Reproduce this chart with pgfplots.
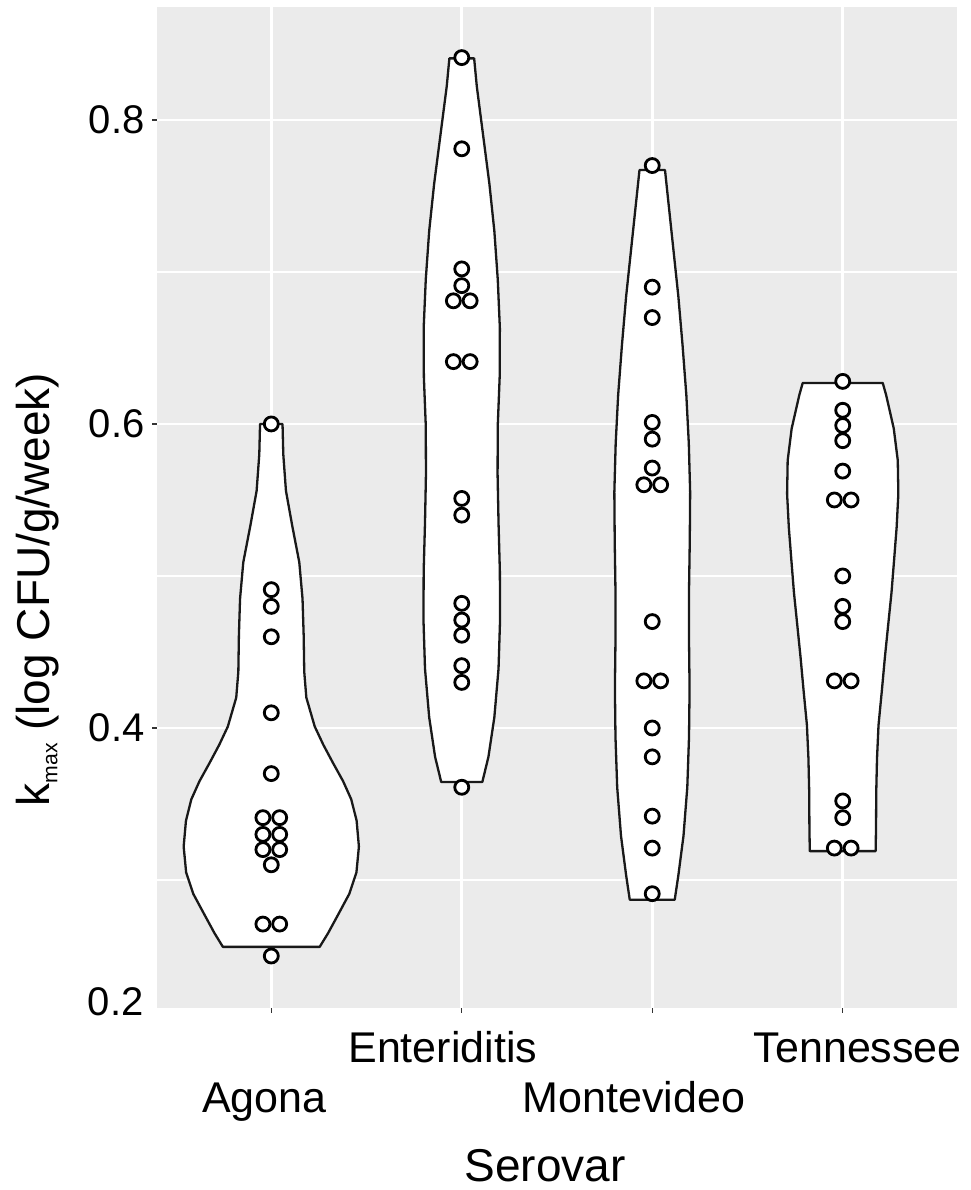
\documentclass[border=0pt]{standalone}
\usepackage{fontspec}
\setmainfont{Liberation Sans}
\usepackage{pgfplots}
\pgfplotsset{compat=1.18}

\definecolor{panelbg}{HTML}{EBEBEB}
\definecolor{tickcol}{HTML}{333333}

\begin{document}
\begin{tikzpicture}
\begin{axis}[
  scale only axis,
  width=400pt, height=500.5pt,
  xmin=0.4, xmax=4.6,
  ymin=0.2158, ymax=0.8743,
  clip=false,
  axis background/.style={fill=panelbg},
  axis line style={draw=none},
  xtick={1,2,3,4}, xticklabels={,,,},
  ytick={0.4,0.6,0.8},
  minor ytick={0.3,0.5,0.7},
  grid=both,
  major grid style={white, line width=1.4pt},
  minor grid style={white, line width=1.1pt},
  tick align=outside,
  tick pos=left,
  major tick length=2.5pt,
  minor tick length=0pt,
  every tick/.style={tickcol, line width=0.7pt},
  yticklabel style={font=\fontsize{20}{24}\selectfont, text=black, anchor=east, inner sep=0pt, xshift=-3.5pt},
  /pgf/number format/assume math mode=true,
  /pgf/number format/fixed,
  /pgf/number format/precision=1,
  /pgf/number format/fixed zerofill,
]

% violin outlines (trimmed to each group's range)
\pgfplotsset{violin/.style={draw=black!90, line width=1.15pt, fill=white, line join=round}}

\addplot[violin] coordinates {
 (1.254,0.256) (1.298,0.265) (1.350,0.277) (1.410,0.291) (1.447,0.305) (1.460,0.322)
 (1.448,0.339) (1.420,0.353) (1.377,0.365) (1.324,0.377) (1.273,0.389) (1.228,0.401)
 (1.184,0.420) (1.173,0.437) (1.170,0.461) (1.164,0.485) (1.147,0.509) (1.110,0.533)
 (1.077,0.556) (1.063,0.580) (1.059,0.600)
 (0.941,0.600) (0.937,0.580) (0.923,0.556) (0.890,0.533) (0.853,0.509) (0.836,0.485)
 (0.830,0.461) (0.827,0.437) (0.816,0.420) (0.772,0.401) (0.727,0.389) (0.676,0.377)
 (0.623,0.365) (0.580,0.353) (0.552,0.339) (0.540,0.322) (0.553,0.305) (0.590,0.291)
 (0.650,0.277) (0.702,0.265) (0.746,0.256)
} -- cycle;

\addplot[violin] coordinates {
 (2.108,0.3645) (2.140,0.381) (2.171,0.407) (2.193,0.439) (2.201,0.471) (2.200,0.503)
 (2.193,0.535) (2.188,0.567) (2.189,0.599) (2.199,0.631) (2.200,0.663) (2.189,0.695)
 (2.171,0.727) (2.145,0.758) (2.112,0.790) (2.079,0.822) (2.065,0.8405)
 (1.935,0.8405) (1.921,0.822) (1.888,0.790) (1.855,0.758) (1.829,0.727) (1.811,0.695)
 (1.800,0.663) (1.801,0.631) (1.811,0.599) (1.812,0.567) (1.807,0.535) (1.800,0.503)
 (1.799,0.471) (1.807,0.439) (1.829,0.407) (1.860,0.381) (1.892,0.3645)
} -- cycle;

\addplot[violin] coordinates {
 (3.118,0.287) (3.137,0.303) (3.164,0.329) (3.184,0.361) (3.193,0.394) (3.196,0.426)
 (3.193,0.458) (3.193,0.490) (3.197,0.523) (3.199,0.555) (3.192,0.587) (3.179,0.619)
 (3.159,0.652) (3.137,0.684) (3.110,0.716) (3.083,0.748) (3.067,0.767)
 (2.933,0.767) (2.917,0.748) (2.890,0.716) (2.863,0.684) (2.841,0.652) (2.821,0.619)
 (2.808,0.587) (2.801,0.555) (2.803,0.523) (2.807,0.490) (2.807,0.458) (2.804,0.426)
 (2.807,0.394) (2.816,0.361) (2.836,0.329) (2.863,0.303) (2.882,0.287)
} -- cycle;

\addplot[violin] coordinates {
 (4.173,0.319) (4.175,0.337) (4.176,0.358) (4.180,0.380) (4.188,0.402) (4.205,0.424)
 (4.221,0.446) (4.238,0.467) (4.256,0.489) (4.270,0.511) (4.283,0.532) (4.292,0.554)
 (4.289,0.576) (4.268,0.597) (4.228,0.619) (4.210,0.627)
 (3.790,0.627) (3.772,0.619) (3.732,0.597) (3.711,0.576) (3.708,0.554) (3.717,0.532)
 (3.730,0.511) (3.744,0.489) (3.762,0.467) (3.779,0.446) (3.795,0.424) (3.812,0.402)
 (3.820,0.380) (3.824,0.358) (3.825,0.337) (3.827,0.319)
} -- cycle;

% dot plot, equal-value bins stacked side by side
\pgfplotsset{dots/.style={only marks, mark=*, mark size=3.5pt,
  mark options={draw=black, fill=white, line width=1.4pt}}}

\addplot[dots] coordinates {
 (1,0.600) (1,0.491) (1,0.480) (1,0.460) (1,0.410) (1,0.370)
 (0.956,0.341) (1.044,0.341) (0.956,0.330) (1.044,0.330) (0.956,0.320) (1.044,0.320)
 (1,0.310) (0.956,0.271) (1.044,0.271) (1,0.250)
};
\addplot[dots] coordinates {
 (2,0.841) (2,0.781) (2,0.702) (2,0.691) (1.956,0.681) (2.044,0.681)
 (1.956,0.641) (2.044,0.641) (2,0.551) (2,0.540) (2,0.482) (2,0.471)
 (2,0.461) (2,0.441) (2,0.430) (2,0.361)
};
\addplot[dots] coordinates {
 (3,0.770) (3,0.690) (3,0.670) (3,0.601) (3,0.590) (3,0.571)
 (2.956,0.560) (3.044,0.560) (3,0.470) (2.956,0.431) (3.044,0.431) (3,0.400)
 (3,0.381) (3,0.342) (3,0.321) (3,0.291)
};
\addplot[dots] coordinates {
 (4,0.628) (4,0.609) (4,0.599) (4,0.589) (4,0.569) (3.956,0.550) (4.044,0.550)
 (4,0.500) (4,0.480) (4,0.470) (3.956,0.431) (4.044,0.431) (4,0.352) (4,0.341)
 (3.956,0.321) (4.044,0.321)
};

% staggered category labels
\node[anchor=base, font=\fontsize{21.5}{24}\selectfont] at ([yshift=-52pt]axis cs:0.963,0.2158) {Agona};
\node[anchor=base, font=\fontsize{21.5}{24}\selectfont] at ([yshift=-27pt]axis cs:1.900,0.2158) {Enteriditis};
\node[anchor=base, font=\fontsize{21.5}{24}\selectfont] at ([yshift=-52pt]axis cs:2.905,0.2158) {Montevideo};
\node[anchor=base, font=\fontsize{21.5}{24}\selectfont] at ([yshift=-27pt]axis cs:4.079,0.2158) {Tennessee};

% lowest value label
\node[anchor=east, inner sep=0pt, font=\fontsize{20}{24}\selectfont] at ([xshift=-6.5pt]rel axis cs:0,0.006) {0.2};

% axis titles
\node[anchor=base, font=\fontsize{23}{26}\selectfont] at ([yshift=-86.5pt]rel axis cs:0.485,0) {Serovar};
\node[anchor=base, rotate=90, font=\fontsize{23}{26}\selectfont] at ([xshift=-53.5pt]rel axis cs:0,0.418)
  {k\raisebox{-0.3ex}{\fontsize{10.6}{12}\selectfont max} (log CFU/g/week)};

\coordinate (PSW) at (rel axis cs:0,0);
\coordinate (PNE) at (rel axis cs:1,1);
\end{axis}
\pgfresetboundingbox
\path ([xshift=-78.5pt,yshift=-91pt]PSW) rectangle ([xshift=7pt,yshift=3.5pt]PNE);
\end{tikzpicture}
\end{document}
